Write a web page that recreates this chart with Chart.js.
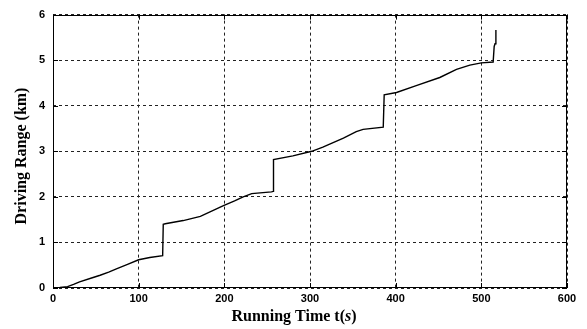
<!DOCTYPE html>
<html>
<head>
<meta charset="utf-8">
<script src="https://cdn.jsdelivr.net/npm/chart.js@4/dist/chart.umd.min.js"></script>
<style>
  html, body { margin: 0; padding: 0; background: #fff; }
  canvas { display: block; }
</style>
</head>
<body>
<canvas id="c" width="587" height="329"></canvas>
<script>
// Running time (s) and accumulated driving range (km)
const timeSec = [0, 8, 17, 24, 31, 45, 55, 65, 74, 87, 100, 113, 128, 128.7, 131, 152, 172, 199, 212, 222, 232, 255, 257, 257.4, 280, 302, 315, 339, 354, 362, 385.5, 386.6, 401, 424, 451.5, 471, 486.6, 500, 513.8, 515, 516, 517];
const rangeKm = [0, 0.01, 0.03, 0.08, 0.135, 0.22, 0.28, 0.35, 0.42, 0.52, 0.62, 0.67, 0.71, 1.40, 1.41, 1.48, 1.57, 1.81, 1.91, 2.00, 2.07, 2.11, 2.12, 2.82, 2.90, 3.00, 3.09, 3.29, 3.43, 3.48, 3.53, 4.24, 4.29, 4.44, 4.62, 4.80, 4.89, 4.94, 4.96, 5.30, 5.36, 5.66];

const xTicks = [0, 100, 200, 300, 400, 500, 600];
const yTicks = [0, 1, 2, 3, 4, 5, 6];

const xTitleParts = [['Running Time t(', false], ['s', true], [')', false]];
const yTitle = 'Driving Range (km)';

const points = timeSec.map((t, i) => ({ x: t, y: rangeKm[i] }));

const tickFont = { family: '"Liberation Sans", Arial, sans-serif', size: 11, weight: 'bold' };

// Box frame, inward tick marks and axis titles
const framePlugin = {
  id: 'frame',
  afterDraw(chart) {
    const { ctx, chartArea: a, scales: { x, y } } = chart;
    ctx.save();
    ctx.strokeStyle = '#000';
    ctx.lineWidth = 1;
    ctx.strokeRect(Math.round(a.left) + 0.5, Math.round(a.top) + 0.5,
                   Math.round(a.right - a.left) - 1, Math.round(a.bottom - a.top) - 1);
    ctx.beginPath();
    xTicks.forEach(v => {
      const px = Math.round(x.getPixelForValue(v)) + 0.5;
      ctx.moveTo(px, a.bottom); ctx.lineTo(px, a.bottom - 5);
      ctx.moveTo(px, a.top); ctx.lineTo(px, a.top + 5);
    });
    yTicks.forEach(v => {
      const py = Math.round(y.getPixelForValue(v)) + 0.5;
      ctx.moveTo(a.left, py); ctx.lineTo(a.left + 5, py);
      ctx.moveTo(a.right, py); ctx.lineTo(a.right - 5, py);
    });
    ctx.stroke();

    // x-axis title with italic "s"
    ctx.fillStyle = '#000';
    ctx.textBaseline = 'alphabetic';
    ctx.textAlign = 'left';
    const fontFor = it => (it ? 'italic ' : '') + 'bold 16px "Liberation Serif", "Times New Roman", serif';
    let total = 0;
    xTitleParts.forEach(([s, it]) => { ctx.font = fontFor(it); total += ctx.measureText(s).width; });
    let cx = 294 - total / 2;
    xTitleParts.forEach(([s, it]) => {
      ctx.font = fontFor(it);
      ctx.fillText(s, cx, 321);
      cx += ctx.measureText(s).width;
    });

    // y-axis title
    ctx.translate(22, 156);
    ctx.rotate(-Math.PI / 2);
    ctx.font = fontFor(false);
    ctx.textAlign = 'center';
    ctx.textBaseline = 'middle';
    ctx.fillText(yTitle, 0, 0);
    ctx.restore();
  }
};

new Chart(document.getElementById('c'), {
  type: 'scatter',
  data: {
    datasets: [{
      data: points,
      showLine: true,
      borderColor: '#000',
      borderWidth: 1.4,
      pointRadius: 0,
      tension: 0,
      fill: false
    }]
  },
  options: {
    responsive: false,
    animation: false,
    devicePixelRatio: 1,
    layout: { padding: { top: 9, right: 20, left: 0, bottom: 0 } },
    plugins: { legend: { display: false }, tooltip: { enabled: false } },
    scales: {
      x: {
        type: 'linear',
        min: 0, max: 600,
        afterBuildTicks: s => { s.ticks = xTicks.map(v => ({ value: v })); },
        afterFit: s => { s.height = 41; },
        grid: { color: '#222', lineWidth: 1, drawTicks: false },
        border: { display: false, dash: [3, 3] },
        ticks: { color: '#000', font: tickFont, padding: 4, maxRotation: 0 }
      },
      y: {
        type: 'linear',
        min: 0, max: 6,
        afterBuildTicks: s => { s.ticks = yTicks.map(v => ({ value: v })); },
        afterFit: s => { s.width = 53; },
        grid: { color: '#222', lineWidth: 1, drawTicks: false },
        border: { display: false, dash: [3, 3] },
        ticks: { color: '#000', font: tickFont, padding: 8 }
      }
    }
  },
  plugins: [framePlugin]
});
</script>
</body>
</html>
